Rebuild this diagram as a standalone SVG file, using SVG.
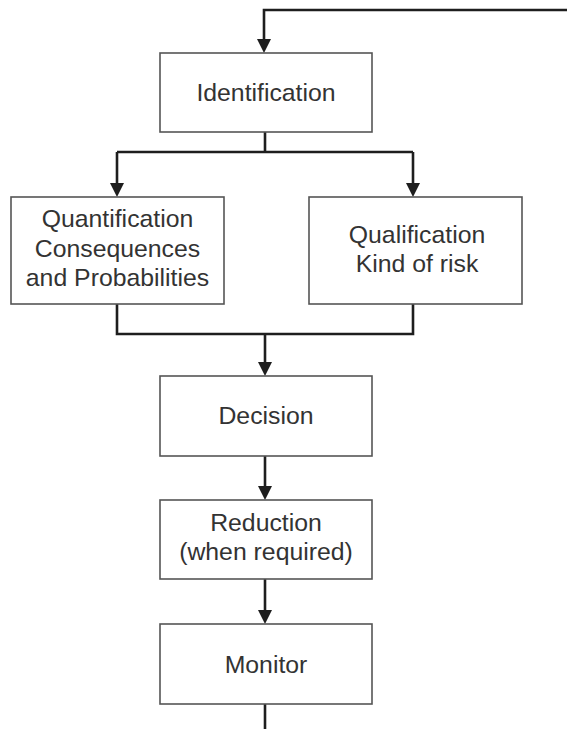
<svg xmlns="http://www.w3.org/2000/svg" width="567" height="729" viewBox="0 0 567 729">
<style>
.box{fill:#fff;stroke:#555;stroke-width:1.6}
.lbl{font-family:"Liberation Sans",Arial,Helvetica,sans-serif;font-size:24.8px;fill:#333;text-anchor:middle}
.con{fill:none;stroke:#1e1e1e;stroke-width:2.6}
</style>
<defs>
<marker id="arr" viewBox="0 0 14 14" refX="0" refY="7" markerWidth="14" markerHeight="14" markerUnits="userSpaceOnUse" orient="auto">
<path d="M0,0 L14,7 L0,14 z" fill="#1e1e1e"/>
</marker>
</defs>
<rect width="567" height="729" fill="#fff"/>
<g id="connectors">
<path class="con" d="M567,10 H264 V39" marker-end="url(#arr)"/>
<path class="con" d="M265,132 V152"/>
<path class="con" d="M117,152 H413"/>
<path class="con" d="M117,152 V183" marker-end="url(#arr)"/>
<path class="con" d="M413,152 V183" marker-end="url(#arr)"/>
<path class="con" d="M117,304 V334 H413 V304"/>
<path class="con" d="M265,334 V362" marker-end="url(#arr)"/>
<path class="con" d="M265,456 V486" marker-end="url(#arr)"/>
<path class="con" d="M265,579 V610" marker-end="url(#arr)"/>
<path class="con" d="M265,704 V729"/>
</g>
<g id="identification">
<rect class="box" x="160" y="53" width="212" height="79"/>
<text class="lbl" x="266" y="101">Identification</text>
</g>
<g id="quantification">
<rect class="box" x="11" y="197" width="213" height="107"/>
<text class="lbl" x="117.5" y="227">Quantification</text>
<text class="lbl" x="117.5" y="256.5">Consequences</text>
<text class="lbl" x="117.5" y="286">and Probabilities</text>
</g>
<g id="qualification">
<rect class="box" x="309" y="197" width="213" height="107"/>
<text class="lbl" x="417" y="243">Qualification</text>
<text class="lbl" x="417" y="272">Kind of risk</text>
</g>
<g id="decision">
<rect class="box" x="160" y="376" width="212" height="80"/>
<text class="lbl" x="266" y="424">Decision</text>
</g>
<g id="reduction">
<rect class="box" x="160" y="500" width="212" height="79"/>
<text class="lbl" x="266" y="531">Reduction</text>
<text class="lbl" x="266" y="560">(when required)</text>
</g>
<g id="monitor">
<rect class="box" x="160" y="624" width="212" height="80"/>
<text class="lbl" x="266" y="673">Monitor</text>
</g>
</svg>
